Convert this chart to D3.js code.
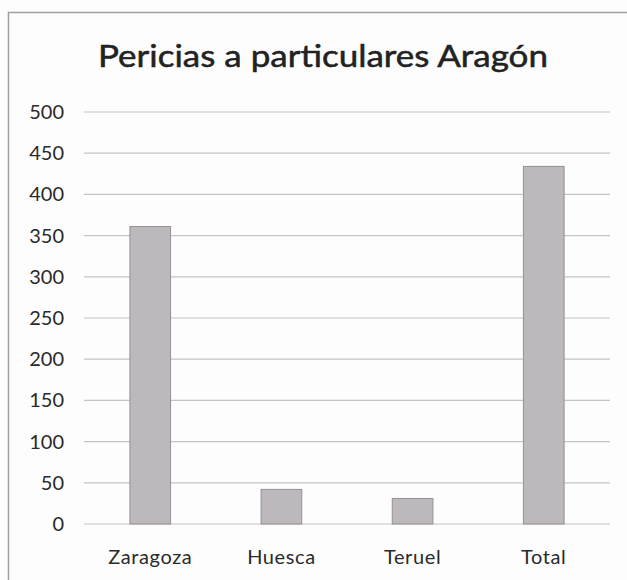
<!DOCTYPE html>
<html>
<head>
<meta charset="utf-8">
<script src="https://cdn.jsdelivr.net/npm/d3@7"></script>
<style>
  body { margin: 0; background: #fdfdfd; }
  svg { display: block; }
</style>
</head>
<body>
<div id="chart"></div>
<script>
// Chart data
var categories = ["Zaragoza", "Huesca", "Teruel", "Total"];
var values = [361, 42, 31, 434];
var yTicks = [0, 50, 100, 150, 200, 250, 300, 350, 400, 450, 500];
var title = "Pericias a particulares Aragón";

var svgWidth = 627;
var svgHeight = 580;
var margin = { top: 112, right: 17, bottom: 56, left: 84 };
var chartWidth = svgWidth - margin.left - margin.right;
var chartHeight = svgHeight - margin.top - margin.bottom;
var fontFamily = "Lato, Open Sans, sans-serif";

var svg = d3.select("#chart").append("svg")
    .attr("width", svgWidth)
    .attr("height", svgHeight);

// Frame of the scanned chart area
svg.append("path")
    .attr("d", "M8.5," + svgHeight + " L8.5,12.5 L" + svgWidth + ",12.5")
    .attr("fill", "none")
    .attr("stroke", "#a0a0a0")
    .attr("stroke-width", 1.5);

// Title (stretched a bit to match the scan's wide lettering)
svg.append("text")
    .attr("x", 98)
    .attr("y", 67)
    .attr("textLength", 450)
    .attr("lengthAdjust", "spacingAndGlyphs")
    .attr("font-family", fontFamily)
    .attr("font-size", "30px")
    .attr("fill", "#222")
    .attr("stroke", "#222")
    .attr("stroke-width", 0.5)
    .text(title);

var chartGroup = svg.append("g")
    .attr("transform", `translate(${margin.left}, ${margin.top})`);

// Scales
var xScale = d3.scaleBand()
    .domain(categories)
    .range([0, chartWidth])
    .paddingInner(0.69)
    .paddingOuter(0.35);

var yScale = d3.scaleLinear()
    .domain([0, 500])
    .range([chartHeight, 0]);

// Gridlines
chartGroup.append("g")
    .selectAll("line")
    .data(yTicks)
    .enter()
    .append("line")
    .attr("x1", 0)
    .attr("x2", chartWidth)
    .attr("y1", function(d) { return yScale(d); })
    .attr("y2", function(d) { return yScale(d); })
    .attr("stroke", "#c4c4c4")
    .attr("stroke-width", 1.2);

// Y axis
var yAxis = d3.axisLeft(yScale).tickValues(yTicks).tickSize(0).tickPadding(20);
var yAxisGroup = chartGroup.append("g").call(yAxis);
yAxisGroup.select(".domain").remove();
yAxisGroup.selectAll("text")
    .attr("font-family", fontFamily)
    .attr("font-size", "20px")
    .attr("fill", "#2a2a2a");

// Bars
chartGroup.selectAll("rect")
    .data(values)
    .enter()
    .append("rect")
    .attr("x", function(d, i) { return xScale(categories[i]); })
    .attr("y", function(d) { return yScale(d); })
    .attr("width", xScale.bandwidth())
    .attr("height", function(d) { return chartHeight - yScale(d); })
    .attr("fill", "#bcb8bc")
    .attr("stroke", "#949094")
    .attr("stroke-width", 1);

// X axis
var xAxis = d3.axisBottom(xScale).tickSize(0).tickPadding(26);
var xAxisGroup = chartGroup.append("g")
    .attr("transform", `translate(0, ${chartHeight})`)
    .call(xAxis);
xAxisGroup.select(".domain").remove();
xAxisGroup.selectAll("text")
    .attr("font-family", fontFamily)
    .attr("font-size", "20px")
    .attr("letter-spacing", "0.6px")
    .attr("fill", "#2a2a2a");
</script>
</body>
</html>
